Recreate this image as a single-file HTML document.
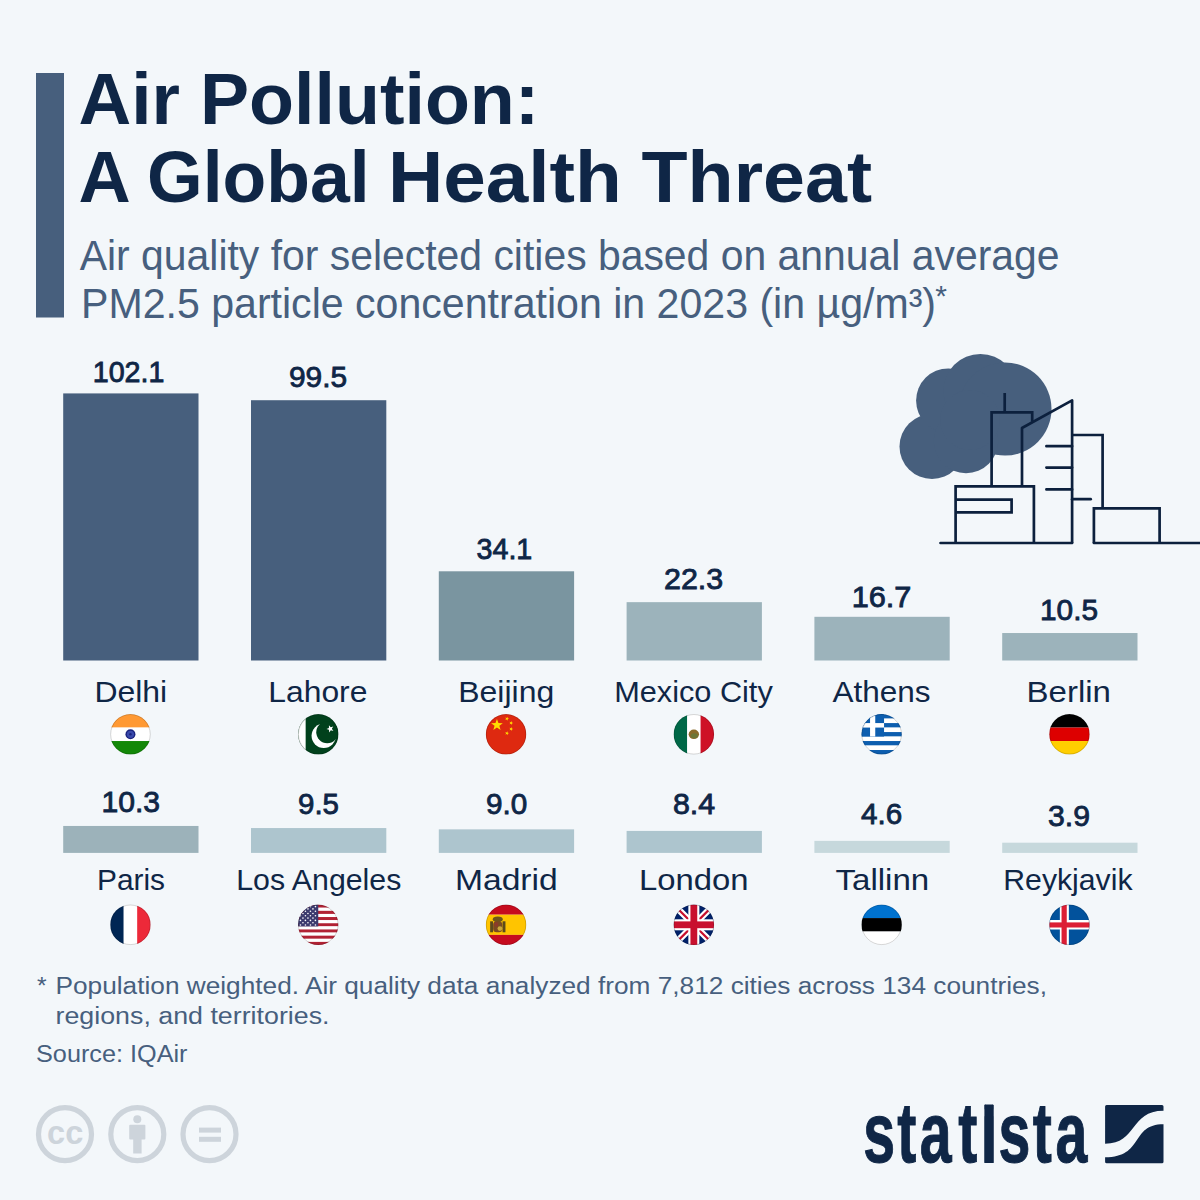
<!DOCTYPE html>
<html><head><meta charset="utf-8"><title>Air Pollution: A Global Health Threat</title>
<style>html,body{margin:0;padding:0;background:#f3f7fa;} svg{display:block;}</style></head>
<body><svg width="1200" height="1200" viewBox="0 0 1200 1200">
<rect width="1200" height="1200" fill="#f3f7fa"/>
<rect x="36" y="73" width="28" height="244.5" fill="#475f7d"/>
<text x="935.2" y="306.3" font-family="'Liberation Sans', Arial, sans-serif" font-size="30" fill="#475f7e">*</text>
<g fill="#475f7d"><circle cx="932" cy="446.5" r="32.5"/><circle cx="948.3" cy="400.6" r="32.2"/><circle cx="980.4" cy="391" r="37"/><circle cx="1005" cy="409" r="46.5"/><circle cx="966" cy="441" r="32.3"/><circle cx="970" cy="420" r="30"/></g>
<g fill="none" stroke="#0c203d" stroke-width="2.7" stroke-linejoin="miter" stroke-linecap="round"><path d="M940.5,543 H1072.1"/><path d="M1093.9,543 H1200"/><path d="M955.6,543 V486.3 H1033.9 V543" stroke-linecap="butt"/><path d="M955.6,499.6 H1011.6 V512.4 H955.6" stroke-linecap="butt"/><path d="M991.6,486.3 V412.4 H1032.2 V421.8" stroke-linecap="butt"/><path d="M1004.7,393 V412.4" stroke-linecap="butt"/><path d="M1022,486.3 V428 L1072.1,400.4 V543" stroke-linecap="butt" stroke-linejoin="round"/><path d="M1046.4,446.2 H1072.1 M1046.4,467.6 H1072.1 M1046.4,489.4 H1072.1"/><path d="M1072.1,435 H1102.6 V508.4" stroke-linecap="butt"/><path d="M1072.1,499.2 H1090.7"/><path d="M1093.9,543 V508.4 H1159.6 V543" stroke-linecap="butt"/></g>
<rect x="63.20" y="393.41" width="135.3" height="267.09" fill="#475f7d"/>
<clipPath id="c_in"><circle cx="130.45" cy="734.30" r="20.2"/></clipPath>
<g clip-path="url(#c_in)">
<rect x="110.25" y="714.10" width="40.40" height="13.47" fill="#ff9933"/>
<rect x="110.25" y="727.57" width="40.40" height="13.47" fill="#ffffff"/>
<rect x="110.25" y="741.03" width="40.40" height="13.47" fill="#138808"/>
<circle cx="130.45" cy="734.30" r="5" fill="#1a237e"/><circle cx="130.45" cy="734.30" r="3.6" fill="#3949ab"/><circle cx="130.45" cy="734.30" r="1.2" fill="#1a237e"/>
</g>
<circle cx="130.45" cy="734.30" r="19.8" fill="none" stroke="rgba(0,0,0,0.18)" stroke-width="0.9"/>
<rect x="251.00" y="400.21" width="135.3" height="260.29" fill="#475f7d"/>
<clipPath id="c_pk"><circle cx="318.25" cy="734.30" r="20.2"/></clipPath>
<g clip-path="url(#c_pk)">
<rect x="298.05" y="714.10" width="40.40" height="40.40" fill="#01411c"/>
<rect x="298.05" y="714.10" width="7.60" height="40.40" fill="#ffffff"/>
<circle cx="323.75" cy="735.80" r="12.2" fill="#ffffff"/>
<circle cx="327.25" cy="732.30" r="11" fill="#01411c"/>
<polygon points="328.95,725.23 330.69,727.26 333.24,726.46 331.85,728.74 333.40,730.92 330.80,730.30 329.20,732.45 328.99,729.79 326.45,728.93 328.92,727.91" fill="#ffffff"/>
</g>
<circle cx="318.25" cy="734.30" r="19.8" fill="none" stroke="rgba(0,0,0,0.18)" stroke-width="0.9"/>
<rect x="438.80" y="571.29" width="135.3" height="89.21" fill="#7a95a0"/>
<clipPath id="c_cn"><circle cx="506.05" cy="734.30" r="20.2"/></clipPath>
<g clip-path="url(#c_cn)">
<rect x="485.85" y="714.10" width="40.40" height="40.40" fill="#de2910"/>
<polygon points="496.95,718.90 498.42,723.08 502.85,723.18 499.33,725.87 500.59,730.12 496.95,727.60 493.31,730.12 494.57,725.87 491.05,723.18 495.48,723.08" fill="#ffde00"/>
<polygon points="507.49,716.67 507.61,718.17 509.05,718.59 507.66,719.16 507.70,720.66 506.73,719.52 505.32,720.02 506.10,718.74 505.19,717.56 506.65,717.91" fill="#ffde00"/>
<polygon points="511.69,720.97 511.81,722.47 513.25,722.89 511.86,723.46 511.90,724.96 510.93,723.82 509.52,724.32 510.30,723.04 509.39,721.86 510.85,722.21" fill="#ffde00"/>
<polygon points="511.69,726.97 511.81,728.47 513.25,728.89 511.86,729.46 511.90,730.96 510.93,729.82 509.52,730.32 510.30,729.04 509.39,727.86 510.85,728.21" fill="#ffde00"/>
<polygon points="507.49,731.17 507.61,732.67 509.05,733.09 507.66,733.66 507.70,735.16 506.73,734.02 505.32,734.52 506.10,733.24 505.19,732.06 506.65,732.41" fill="#ffde00"/>
</g>
<circle cx="506.05" cy="734.30" r="19.8" fill="none" stroke="rgba(0,0,0,0.18)" stroke-width="0.9"/>
<rect x="626.60" y="602.16" width="135.3" height="58.34" fill="#9cb3bb"/>
<clipPath id="c_mx"><circle cx="693.85" cy="734.30" r="20.2"/></clipPath>
<g clip-path="url(#c_mx)">
<rect x="673.65" y="714.10" width="13.77" height="40.40" fill="#006847"/>
<rect x="687.12" y="714.10" width="13.47" height="40.40" fill="#ffffff"/>
<rect x="700.58" y="714.10" width="13.47" height="40.40" fill="#ce1126"/>
<ellipse cx="693.85" cy="734.30" rx="5.2" ry="4.8" fill="#8a6a2a"/><ellipse cx="694.35" cy="735.80" rx="3.5" ry="2.5" fill="#5f7a3a" opacity="0.7"/>
</g>
<circle cx="693.85" cy="734.30" r="19.8" fill="none" stroke="rgba(0,0,0,0.18)" stroke-width="0.9"/>
<rect x="814.40" y="616.81" width="135.3" height="43.69" fill="#9cb3bb"/>
<clipPath id="c_gr"><circle cx="881.65" cy="734.30" r="20.2"/></clipPath>
<g clip-path="url(#c_gr)">
<rect x="861.45" y="714.10" width="40.40" height="4.54" fill="#0d5eaf"/>
<rect x="861.45" y="718.59" width="40.40" height="4.54" fill="#ffffff"/>
<rect x="861.45" y="723.08" width="40.40" height="4.54" fill="#0d5eaf"/>
<rect x="861.45" y="727.57" width="40.40" height="4.54" fill="#ffffff"/>
<rect x="861.45" y="732.06" width="40.40" height="4.54" fill="#0d5eaf"/>
<rect x="861.45" y="736.54" width="40.40" height="4.54" fill="#ffffff"/>
<rect x="861.45" y="741.03" width="40.40" height="4.54" fill="#0d5eaf"/>
<rect x="861.45" y="745.52" width="40.40" height="4.54" fill="#ffffff"/>
<rect x="861.45" y="750.01" width="40.40" height="4.54" fill="#0d5eaf"/>
<rect x="861.45" y="714.10" width="22.60" height="22.44" fill="#0d5eaf"/>
<rect x="870.05" y="714.10" width="5.20" height="22.44" fill="#ffffff"/>
<rect x="861.45" y="723.08" width="22.60" height="4.49" fill="#ffffff"/>
</g>
<circle cx="881.65" cy="734.30" r="19.8" fill="none" stroke="rgba(0,0,0,0.18)" stroke-width="0.9"/>
<rect x="1002.20" y="633.03" width="135.3" height="27.47" fill="#9cb3bb"/>
<clipPath id="c_de"><circle cx="1069.45" cy="734.30" r="20.2"/></clipPath>
<g clip-path="url(#c_de)">
<rect x="1049.25" y="714.10" width="40.40" height="13.47" fill="#000000"/>
<rect x="1049.25" y="727.57" width="40.40" height="13.47" fill="#dd0000"/>
<rect x="1049.25" y="741.03" width="40.40" height="13.47" fill="#ffce00"/>
</g>
<circle cx="1069.45" cy="734.30" r="19.8" fill="none" stroke="rgba(0,0,0,0.18)" stroke-width="0.9"/>
<rect x="63.20" y="825.96" width="135.3" height="26.94" fill="#9cb2ba"/>
<clipPath id="c_fr"><circle cx="130.45" cy="924.80" r="20.2"/></clipPath>
<g clip-path="url(#c_fr)">
<rect x="110.25" y="904.60" width="13.47" height="40.40" fill="#002654"/>
<rect x="123.72" y="904.60" width="13.47" height="40.40" fill="#ffffff"/>
<rect x="137.18" y="904.60" width="13.47" height="40.40" fill="#ed2939"/>
</g>
<circle cx="130.45" cy="924.80" r="19.8" fill="none" stroke="rgba(0,0,0,0.18)" stroke-width="0.9"/>
<rect x="251.00" y="828.05" width="135.3" height="24.85" fill="#adc5ce"/>
<clipPath id="c_us"><circle cx="318.25" cy="924.80" r="20.2"/></clipPath>
<g clip-path="url(#c_us)">
<rect x="298.05" y="904.60" width="40.40" height="3.16" fill="#b22234"/>
<rect x="298.05" y="907.71" width="40.40" height="3.16" fill="#ffffff"/>
<rect x="298.05" y="910.82" width="40.40" height="3.16" fill="#b22234"/>
<rect x="298.05" y="913.92" width="40.40" height="3.16" fill="#ffffff"/>
<rect x="298.05" y="917.03" width="40.40" height="3.16" fill="#b22234"/>
<rect x="298.05" y="920.14" width="40.40" height="3.16" fill="#ffffff"/>
<rect x="298.05" y="923.25" width="40.40" height="3.16" fill="#b22234"/>
<rect x="298.05" y="926.35" width="40.40" height="3.16" fill="#ffffff"/>
<rect x="298.05" y="929.46" width="40.40" height="3.16" fill="#b22234"/>
<rect x="298.05" y="932.57" width="40.40" height="3.16" fill="#ffffff"/>
<rect x="298.05" y="935.68" width="40.40" height="3.16" fill="#b22234"/>
<rect x="298.05" y="938.78" width="40.40" height="3.16" fill="#ffffff"/>
<rect x="298.05" y="941.89" width="40.40" height="3.16" fill="#b22234"/>
<rect x="298.05" y="904.60" width="20.20" height="21.80" fill="#3c3b6e"/>
<circle cx="300.45" cy="906.60" r="0.8" fill="#ffffff"/>
<circle cx="305.45" cy="906.60" r="0.8" fill="#ffffff"/>
<circle cx="310.45" cy="906.60" r="0.8" fill="#ffffff"/>
<circle cx="315.45" cy="906.60" r="0.8" fill="#ffffff"/>
<circle cx="302.95" cy="908.90" r="0.8" fill="#ffffff"/>
<circle cx="307.95" cy="908.90" r="0.8" fill="#ffffff"/>
<circle cx="312.95" cy="908.90" r="0.8" fill="#ffffff"/>
<circle cx="300.45" cy="911.20" r="0.8" fill="#ffffff"/>
<circle cx="305.45" cy="911.20" r="0.8" fill="#ffffff"/>
<circle cx="310.45" cy="911.20" r="0.8" fill="#ffffff"/>
<circle cx="315.45" cy="911.20" r="0.8" fill="#ffffff"/>
<circle cx="302.95" cy="913.50" r="0.8" fill="#ffffff"/>
<circle cx="307.95" cy="913.50" r="0.8" fill="#ffffff"/>
<circle cx="312.95" cy="913.50" r="0.8" fill="#ffffff"/>
<circle cx="300.45" cy="915.80" r="0.8" fill="#ffffff"/>
<circle cx="305.45" cy="915.80" r="0.8" fill="#ffffff"/>
<circle cx="310.45" cy="915.80" r="0.8" fill="#ffffff"/>
<circle cx="315.45" cy="915.80" r="0.8" fill="#ffffff"/>
<circle cx="302.95" cy="918.10" r="0.8" fill="#ffffff"/>
<circle cx="307.95" cy="918.10" r="0.8" fill="#ffffff"/>
<circle cx="312.95" cy="918.10" r="0.8" fill="#ffffff"/>
<circle cx="300.45" cy="920.40" r="0.8" fill="#ffffff"/>
<circle cx="305.45" cy="920.40" r="0.8" fill="#ffffff"/>
<circle cx="310.45" cy="920.40" r="0.8" fill="#ffffff"/>
<circle cx="315.45" cy="920.40" r="0.8" fill="#ffffff"/>
<circle cx="302.95" cy="922.70" r="0.8" fill="#ffffff"/>
<circle cx="307.95" cy="922.70" r="0.8" fill="#ffffff"/>
<circle cx="312.95" cy="922.70" r="0.8" fill="#ffffff"/>
<circle cx="300.45" cy="925.00" r="0.8" fill="#ffffff"/>
<circle cx="305.45" cy="925.00" r="0.8" fill="#ffffff"/>
<circle cx="310.45" cy="925.00" r="0.8" fill="#ffffff"/>
<circle cx="315.45" cy="925.00" r="0.8" fill="#ffffff"/>
</g>
<circle cx="318.25" cy="924.80" r="19.8" fill="none" stroke="rgba(0,0,0,0.18)" stroke-width="0.9"/>
<rect x="438.80" y="829.36" width="135.3" height="23.54" fill="#adc5ce"/>
<clipPath id="c_es"><circle cx="506.05" cy="924.80" r="20.2"/></clipPath>
<g clip-path="url(#c_es)">
<rect x="485.85" y="904.60" width="40.40" height="10.10" fill="#c60b1e"/>
<rect x="485.85" y="914.70" width="40.40" height="20.20" fill="#ffc400"/>
<rect x="485.85" y="934.90" width="40.40" height="10.10" fill="#c60b1e"/>
<rect x="490.15" y="921.30" width="2.9" height="11" fill="#5c4a1c"/>
<rect x="502.55" y="921.30" width="2.9" height="11" fill="#5c4a1c"/>
<ellipse cx="497.75" cy="919.30" rx="5" ry="2.8" fill="#6e561c"/>
<rect x="493.15" y="921.20" width="9.2" height="11" rx="3.5" fill="#7a4a22"/>
<rect x="494.55" y="922.40" width="3.4" height="4" fill="#8e3a2a"/>
<circle cx="499.95" cy="928.60" r="2.4" fill="#c9a83a"/>
</g>
<circle cx="506.05" cy="924.80" r="19.8" fill="none" stroke="rgba(0,0,0,0.18)" stroke-width="0.9"/>
<rect x="626.60" y="830.93" width="135.3" height="21.97" fill="#adc5ce"/>
<clipPath id="c_gb"><circle cx="693.85" cy="924.80" r="20.2"/></clipPath>
<g clip-path="url(#c_gb)">
<rect x="673.65" y="904.60" width="40.40" height="40.40" fill="#012169"/>
<path d="M673.6500000000001,904.5999999999999 L714.0500000000001,944.9999999999999 M714.0500000000001,904.5999999999999 L673.6500000000001,944.9999999999999" stroke="#ffffff" stroke-width="6.5"/>
<path d="M673.6500000000001,904.5999999999999 L714.0500000000001,944.9999999999999 M714.0500000000001,904.5999999999999 L673.6500000000001,944.9999999999999" stroke="#c8102e" stroke-width="2.2"/>
<rect x="688.35" y="904.60" width="11.00" height="40.40" fill="#ffffff"/>
<rect x="673.65" y="919.30" width="40.40" height="11.00" fill="#ffffff"/>
<rect x="690.45" y="904.60" width="6.80" height="40.40" fill="#c8102e"/>
<rect x="673.65" y="921.40" width="40.40" height="6.80" fill="#c8102e"/>
</g>
<circle cx="693.85" cy="924.80" r="19.8" fill="none" stroke="rgba(0,0,0,0.18)" stroke-width="0.9"/>
<rect x="814.40" y="840.87" width="135.3" height="12.03" fill="#c6d8dc"/>
<clipPath id="c_ee"><circle cx="881.65" cy="924.80" r="20.2"/></clipPath>
<g clip-path="url(#c_ee)">
<rect x="861.45" y="904.60" width="40.40" height="13.47" fill="#0072ce"/>
<rect x="861.45" y="918.07" width="40.40" height="13.47" fill="#000000"/>
<rect x="861.45" y="931.53" width="40.40" height="13.47" fill="#ffffff"/>
</g>
<circle cx="881.65" cy="924.80" r="19.8" fill="none" stroke="rgba(0,0,0,0.18)" stroke-width="0.9"/>
<rect x="1002.20" y="842.70" width="135.3" height="10.20" fill="#c6d8dc"/>
<clipPath id="c_is"><circle cx="1069.45" cy="924.80" r="20.2"/></clipPath>
<g clip-path="url(#c_is)">
<rect x="1049.25" y="904.60" width="40.40" height="40.40" fill="#02529c"/>
<rect x="1059.85" y="904.60" width="9.00" height="40.40" fill="#ffffff"/>
<rect x="1049.25" y="920.00" width="40.40" height="9.50" fill="#ffffff"/>
<rect x="1061.55" y="904.60" width="5.20" height="40.40" fill="#dc1e35"/>
<rect x="1049.25" y="922.40" width="40.40" height="5.10" fill="#dc1e35"/>
</g>
<circle cx="1069.45" cy="924.80" r="19.8" fill="none" stroke="rgba(0,0,0,0.18)" stroke-width="0.9"/>
<text x="37" y="993.6" font-family="'Liberation Sans', Arial, sans-serif" font-size="24.7" fill="#475f7e">*</text>
<g fill="none" stroke="#cdd4db" stroke-width="5.2"><circle cx="65" cy="1134.2" r="26.5"/><circle cx="137.3" cy="1134.2" r="26.5"/><circle cx="209.5" cy="1134.2" r="26.5"/></g>
<g fill="#cdd4db"><circle cx="137.3" cy="1119.3" r="4"/><rect x="129.2" y="1124.8" width="16.2" height="14.8" rx="1"/><rect x="133.2" y="1138" width="8.4" height="15.5"/><rect x="199" y="1127.6" width="22" height="5"/><rect x="199" y="1136.8" width="22" height="5"/></g>
<clipPath id="logoclip"><rect x="850" y="1104.6" width="250" height="70"/></clipPath>
<g clip-path="url(#logoclip)"><text transform="matrix(0.67 0 0 1 0 0)" x="1288.42 1339.12 1372.84 1430.17 1464.28 1490.28 1541.58 1575.45" y="1162.5" font-family="'Liberation Sans', Arial, sans-serif" font-weight="700" font-size="85.5" fill="#0f2646" stroke="#0f2646" stroke-width="1.1">statista</text></g>
<rect x="984.4" y="1105" width="9.3" height="58" fill="#0f2646"/>
<path fill="#0f2646" d="M1106.6,1105 H1162 Q1163.5,1105 1163.5,1106.5 V1110.8 C1129.5,1110.8 1137.5,1143.75 1105.1,1143.75 V1106.5 Q1105.1,1105 1106.6,1105 Z"/>
<path fill="#0f2646" d="M1163.5,1124.2 V1161.8 Q1163.5,1163.3 1162,1163.3 H1106.6 Q1105.1,1163.3 1105.1,1161.8 V1157.2 C1144.5,1157.2 1130,1124.2 1163.5,1124.2 Z"/>
<text x="78.50" y="123.8" font-family="'Liberation Sans', Arial, sans-serif" font-weight="700" font-size="72.5" fill="#0f2646" textLength="101.53" lengthAdjust="spacingAndGlyphs">Air</text>
<text x="200.00" y="123.8" font-family="'Liberation Sans', Arial, sans-serif" font-weight="700" font-size="72.5" fill="#0f2646" textLength="339.35" lengthAdjust="spacingAndGlyphs">Pollution:</text>
<text x="78.50" y="201.7" font-family="'Liberation Sans', Arial, sans-serif" font-weight="700" font-size="72.5" fill="#0f2646" textLength="52.20" lengthAdjust="spacingAndGlyphs">A</text>
<text x="147.00" y="201.7" font-family="'Liberation Sans', Arial, sans-serif" font-weight="700" font-size="72.5" fill="#0f2646" textLength="222.72" lengthAdjust="spacingAndGlyphs">Global</text>
<text x="388.00" y="201.7" font-family="'Liberation Sans', Arial, sans-serif" font-weight="700" font-size="72.5" fill="#0f2646" textLength="233.82" lengthAdjust="spacingAndGlyphs">Health</text>
<text x="641.50" y="201.7" font-family="'Liberation Sans', Arial, sans-serif" font-weight="700" font-size="72.5" fill="#0f2646" textLength="230.50" lengthAdjust="spacingAndGlyphs">Threat</text>
<text x="79.75" y="270" font-family="'Liberation Sans', Arial, sans-serif" font-weight="400" font-size="41.8" fill="#475f7e" textLength="979.75" lengthAdjust="spacingAndGlyphs">Air quality for selected cities based on annual average</text>
<text x="81.00" y="317.7" font-family="'Liberation Sans', Arial, sans-serif" font-weight="400" font-size="41.8" fill="#475f7e" textLength="855.03" lengthAdjust="spacingAndGlyphs">PM2.5 particle concentration in 2023 (in µg/m³)</text>
<text x="92.75" y="381.5" font-family="'Liberation Sans', Arial, sans-serif" font-weight="400" font-size="29.6" fill="#0f2646" stroke="#0f2646" stroke-width="0.85" textLength="71.64" lengthAdjust="spacingAndGlyphs">102.1</text>
<text x="289.00" y="387.3" font-family="'Liberation Sans', Arial, sans-serif" font-weight="400" font-size="29.6" fill="#0f2646" stroke="#0f2646" stroke-width="0.85" textLength="58.14" lengthAdjust="spacingAndGlyphs">99.5</text>
<text x="476.50" y="559.4" font-family="'Liberation Sans', Arial, sans-serif" font-weight="400" font-size="29.6" fill="#0f2646" stroke="#0f2646" stroke-width="0.85" textLength="55.81" lengthAdjust="spacingAndGlyphs">34.1</text>
<text x="664.00" y="589.45" font-family="'Liberation Sans', Arial, sans-serif" font-weight="400" font-size="29.6" fill="#0f2646" stroke="#0f2646" stroke-width="0.85" textLength="59.26" lengthAdjust="spacingAndGlyphs">22.3</text>
<text x="851.70" y="606.5" font-family="'Liberation Sans', Arial, sans-serif" font-weight="400" font-size="29.6" fill="#0f2646" stroke="#0f2646" stroke-width="0.85" textLength="59.76" lengthAdjust="spacingAndGlyphs">16.7</text>
<text x="1040.00" y="620.3000000000001" font-family="'Liberation Sans', Arial, sans-serif" font-weight="400" font-size="29.6" fill="#0f2646" stroke="#0f2646" stroke-width="0.85" textLength="57.99" lengthAdjust="spacingAndGlyphs">10.5</text>
<text x="101.50" y="811.5" font-family="'Liberation Sans', Arial, sans-serif" font-weight="400" font-size="29.6" fill="#0f2646" stroke="#0f2646" stroke-width="0.85" textLength="58.62" lengthAdjust="spacingAndGlyphs">10.3</text>
<text x="298.00" y="814.3000000000001" font-family="'Liberation Sans', Arial, sans-serif" font-weight="400" font-size="29.6" fill="#0f2646" stroke="#0f2646" stroke-width="0.85" textLength="41.00" lengthAdjust="spacingAndGlyphs">9.5</text>
<text x="485.90" y="814.3000000000001" font-family="'Liberation Sans', Arial, sans-serif" font-weight="400" font-size="29.6" fill="#0f2646" stroke="#0f2646" stroke-width="0.85" textLength="41.28" lengthAdjust="spacingAndGlyphs">9.0</text>
<text x="673.00" y="814.3000000000001" font-family="'Liberation Sans', Arial, sans-serif" font-weight="400" font-size="29.6" fill="#0f2646" stroke="#0f2646" stroke-width="0.85" textLength="42.18" lengthAdjust="spacingAndGlyphs">8.4</text>
<text x="861.00" y="824.3000000000001" font-family="'Liberation Sans', Arial, sans-serif" font-weight="400" font-size="29.6" fill="#0f2646" stroke="#0f2646" stroke-width="0.85" textLength="41.15" lengthAdjust="spacingAndGlyphs">4.6</text>
<text x="1048.00" y="826.3000000000001" font-family="'Liberation Sans', Arial, sans-serif" font-weight="400" font-size="29.6" fill="#0f2646" stroke="#0f2646" stroke-width="0.85" textLength="41.97" lengthAdjust="spacingAndGlyphs">3.9</text>
<text x="94.40" y="701.6" font-family="'Liberation Sans', Arial, sans-serif" font-weight="400" font-size="29.4" fill="#0f2646" textLength="72.79" lengthAdjust="spacingAndGlyphs">Delhi</text>
<text x="268.25" y="701.6" font-family="'Liberation Sans', Arial, sans-serif" font-weight="400" font-size="29.4" fill="#0f2646" textLength="99.17" lengthAdjust="spacingAndGlyphs">Lahore</text>
<text x="458.25" y="701.6" font-family="'Liberation Sans', Arial, sans-serif" font-weight="400" font-size="29.4" fill="#0f2646" textLength="95.95" lengthAdjust="spacingAndGlyphs">Beijing</text>
<text x="614.20" y="701.6" font-family="'Liberation Sans', Arial, sans-serif" font-weight="400" font-size="29.4" fill="#0f2646" textLength="158.56" lengthAdjust="spacingAndGlyphs">Mexico City</text>
<text x="832.50" y="701.6" font-family="'Liberation Sans', Arial, sans-serif" font-weight="400" font-size="29.4" fill="#0f2646" textLength="98.15" lengthAdjust="spacingAndGlyphs">Athens</text>
<text x="1026.50" y="701.6" font-family="'Liberation Sans', Arial, sans-serif" font-weight="400" font-size="29.4" fill="#0f2646" textLength="84.46" lengthAdjust="spacingAndGlyphs">Berlin</text>
<text x="97.00" y="889.5" font-family="'Liberation Sans', Arial, sans-serif" font-weight="400" font-size="29.4" fill="#0f2646" textLength="68.05" lengthAdjust="spacingAndGlyphs">Paris</text>
<text x="236.25" y="889.5" font-family="'Liberation Sans', Arial, sans-serif" font-weight="400" font-size="29.4" fill="#0f2646" textLength="165.08" lengthAdjust="spacingAndGlyphs">Los Angeles</text>
<text x="454.90" y="889.5" font-family="'Liberation Sans', Arial, sans-serif" font-weight="400" font-size="29.4" fill="#0f2646" textLength="102.86" lengthAdjust="spacingAndGlyphs">Madrid</text>
<text x="638.90" y="889.5" font-family="'Liberation Sans', Arial, sans-serif" font-weight="400" font-size="29.4" fill="#0f2646" textLength="109.58" lengthAdjust="spacingAndGlyphs">London</text>
<text x="835.50" y="889.5" font-family="'Liberation Sans', Arial, sans-serif" font-weight="400" font-size="29.4" fill="#0f2646" textLength="93.72" lengthAdjust="spacingAndGlyphs">Tallinn</text>
<text x="1003.30" y="889.5" font-family="'Liberation Sans', Arial, sans-serif" font-weight="400" font-size="29.4" fill="#0f2646" textLength="129.25" lengthAdjust="spacingAndGlyphs">Reykjavik</text>
<text x="55.50" y="993.6" font-family="'Liberation Sans', Arial, sans-serif" font-weight="400" font-size="24.7" fill="#475f7e" textLength="991.51" lengthAdjust="spacingAndGlyphs">Population weighted. Air quality data analyzed from 7,812 cities across 134 countries,</text>
<text x="55.50" y="1023.6" font-family="'Liberation Sans', Arial, sans-serif" font-weight="400" font-size="24.7" fill="#475f7e" textLength="274.03" lengthAdjust="spacingAndGlyphs">regions, and territories.</text>
<text x="36.00" y="1061.7" font-family="'Liberation Sans', Arial, sans-serif" font-weight="400" font-size="24.7" fill="#475f7e" textLength="151.52" lengthAdjust="spacingAndGlyphs">Source: IQAir</text>
<text x="47.10" y="1143.6" font-family="'Liberation Sans', Arial, sans-serif" font-weight="700" font-size="33" fill="#cdd4db" textLength="36.27" lengthAdjust="spacingAndGlyphs">cc</text>
</svg></body></html>
